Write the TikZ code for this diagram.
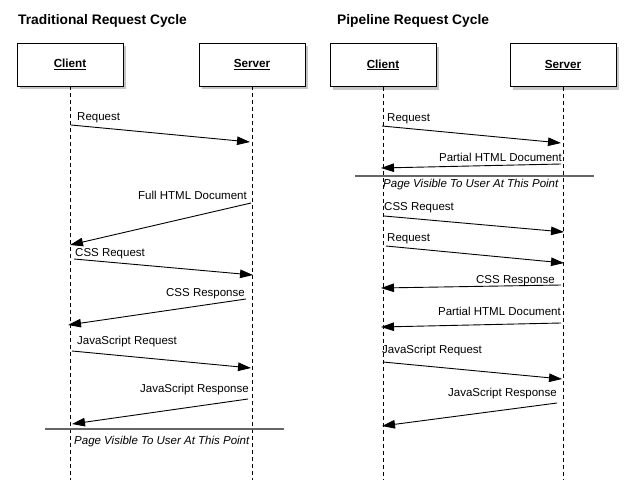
\documentclass[tikz,border=0pt]{standalone}
\usepackage{fontspec}
\setmainfont{Liberation Sans}
\usetikzlibrary{arrows.meta,shadows}
\begin{document}
\begin{tikzpicture}[x=1pt,y=-1pt,
  actor/.style={draw=black,line width=0.9pt,fill=white,minimum width=106pt,minimum height=43pt,
    font=\fontsize{11.7}{13}\selectfont\bfseries,
    drop shadow={opacity=0.45,shadow xshift=2.5pt,shadow yshift=-3.5pt}},
  title/.style={font=\fontsize{13.8}{15}\selectfont\bfseries,anchor=base west,inner sep=0pt},
  lbl/.style={font=\fontsize{11.5}{13}\selectfont,inner sep=0pt},
  lblL/.style={lbl,anchor=base west},
  lblR/.style={lbl,anchor=base east},
  note/.style={font=\fontsize{11.5}{13}\selectfont\itshape,inner sep=0pt,anchor=base west},
  life/.style={draw=black,line width=0.8pt,dash pattern=on 4pt off 3pt},
  msg/.style={draw=black,line width=0.9pt,-{Triangle[length=13pt,width=8.5pt]}},
  sep/.style={draw=black!60,line width=1.3pt}]
\useasboundingbox (0,0) rectangle (624,492);
% titles
\node[title] (t1) at (18,25) {Traditional Request Cycle};
\node[title] (t2) at (337,25) {Pipeline Request Cycle};
% actors
\node[actor] (c1) at (70,64.5) {\underline{Client}};
\node[actor] (s1) at (252,64.5) {\underline{Server}};
\node[actor] (c2) at (383,65) {\underline{Client}};
\node[actor] (s2) at (563,65) {\underline{Server}};
% lifeline ends
\coordinate (c1e) at (70,480);
\coordinate (s1e) at (252,480);
\coordinate (c2e) at (383,480);
\coordinate (s2e) at (563,480);
\draw[life] (c1.south) -- (c1e);
\draw[life] (s1.south) -- (s1e);
\draw[life] (c2.south) -- (c2e);
\draw[life] (s2.south) -- (s2e);
% ---------- left: traditional ----------
\coordinate (a1s) at (71,125);  \coordinate (a1e) at (250,142);
\coordinate (a2s) at (251,203); \coordinate (a2e) at (70,245);
\coordinate (a3s) at (74,259);  \coordinate (a3e) at (253,275);
\coordinate (a4s) at (246,299); \coordinate (a4e) at (68,325);
\coordinate (a5s) at (72,351);  \coordinate (a5e) at (251,368);
\coordinate (a6s) at (248,399); \coordinate (a6e) at (72,424);
\draw[msg] (a1s) -- (a1e);
\draw[msg] (a2s) -- (a2e);
\draw[msg] (a3s) -- (a3e);
\draw[msg] (a4s) -- (a4e);
\draw[msg] (a5s) -- (a5e);
\draw[msg] (a6s) -- (a6e);
\node[lblL] (la1) at (77,121) {Request};
\node[lblR] (la2) at (247,200) {Full HTML Document};
\node[lblL] (la3) at (75,256) {CSS Request};
\node[lblR] (la4) at (245,296) {CSS Response};
\node[lblL] (la5) at (77,344) {JavaScript Request};
\node[lblR] (la6) at (249,392) {JavaScript Response};
\coordinate (sp1s) at (45,429); \coordinate (sp1e) at (284,429);
\draw[sep] (sp1s) -- (sp1e);
\node[note] (n1) at (74,444) {Page Visible To User At This Point};
% ---------- right: pipeline ----------
\coordinate (b1s) at (382,126); \coordinate (b1e) at (561,143);
\coordinate (b2s) at (561,164); \coordinate (b2e) at (381,168);
\coordinate (b3s) at (384,216); \coordinate (b3e) at (564,232);
\coordinate (b4s) at (386,246); \coordinate (b4e) at (564,263);
\coordinate (b5s) at (561,285); \coordinate (b5e) at (381,288);
\coordinate (b6s) at (561,323); \coordinate (b6e) at (381,327);
\coordinate (b7s) at (383,362); \coordinate (b7e) at (562,379);
\coordinate (b8s) at (557,403); \coordinate (b8e) at (382,426);
\draw[msg] (b1s) -- (b1e);
\draw[msg] (b2s) -- (b2e);
\draw[msg] (b3s) -- (b3e);
\draw[msg] (b4s) -- (b4e);
\draw[msg] (b5s) -- (b5e);
\draw[msg] (b6s) -- (b6e);
\draw[msg] (b7s) -- (b7e);
\draw[msg] (b8s) -- (b8e);
\node[lblL] (lb1) at (387,122) {Request};
\node[lblR] (lb2) at (562,161) {Partial HTML Document};
\coordinate (sp2s) at (355,176); \coordinate (sp2e) at (594,176);
\draw[sep] (sp2s) -- (sp2e);
\node[note] (n2) at (383,187) {Page Visible To User At This Point};
\node[lblL] (lb3) at (384,210) {CSS Request};
\node[lblL] (lb4) at (387,241) {Request};
\node[lblR] (lb5) at (555,283) {CSS Response};
\node[lblR] (lb6) at (561,315) {Partial HTML Document};
\node[lblL] (lb7) at (382,353) {JavaScript Request};
\node[lblR] (lb8) at (557,396) {JavaScript Response};
\end{tikzpicture}
\end{document}
